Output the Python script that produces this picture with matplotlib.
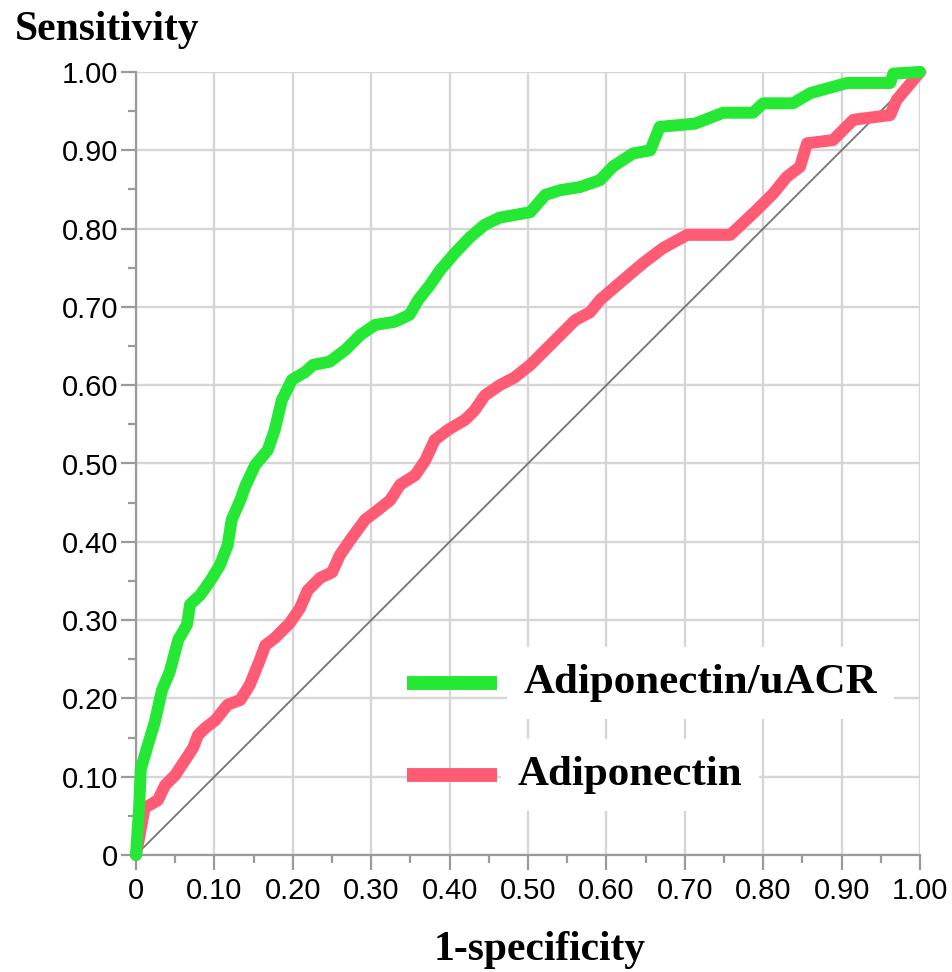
import numpy as np
import matplotlib
matplotlib.use("Agg")
import matplotlib.pyplot as plt

# ROC points
ratio_fpr = [0, 0.004, 0.006, 0.015, 0.024, 0.033, 0.043, 0.054, 0.065, 0.069,
             0.082, 0.094, 0.107, 0.117, 0.122, 0.133, 0.139, 0.152, 0.168, 0.177,
             0.186, 0.199, 0.216, 0.226, 0.247, 0.267, 0.286, 0.305, 0.33, 0.349,
             0.36, 0.375, 0.388, 0.407, 0.426, 0.445, 0.464, 0.503, 0.522, 0.541,
             0.566, 0.592, 0.608, 0.634, 0.656, 0.668, 0.713, 0.749, 0.787, 0.80,
             0.838, 0.86, 0.907, 0.962, 0.966, 1.0]
ratio_tpr = [0, 0.06, 0.109, 0.14, 0.17, 0.21, 0.234, 0.275, 0.294, 0.32,
             0.332, 0.349, 0.37, 0.396, 0.428, 0.453, 0.47, 0.498, 0.517, 0.543,
             0.581, 0.607, 0.617, 0.626, 0.63, 0.645, 0.664, 0.677, 0.681, 0.69,
             0.709, 0.728, 0.747, 0.769, 0.789, 0.805, 0.814, 0.821, 0.843, 0.849,
             0.853, 0.862, 0.879, 0.896, 0.9, 0.93, 0.934, 0.948, 0.948, 0.96,
             0.96, 0.973, 0.986, 0.986, 0.998, 1.0]

adipo_fpr = [0, 0.011, 0.028, 0.037, 0.05, 0.0625, 0.073, 0.079, 0.088, 0.101,
             0.117, 0.133, 0.145, 0.158, 0.165, 0.177, 0.196, 0.209, 0.219, 0.235,
             0.25, 0.26, 0.273, 0.292, 0.309, 0.324, 0.337, 0.356, 0.369, 0.381,
             0.398, 0.42, 0.432, 0.445, 0.464, 0.483, 0.503, 0.522, 0.541, 0.56,
             0.579, 0.592, 0.621, 0.647, 0.672, 0.703, 0.758, 0.774, 0.792, 0.813,
             0.83, 0.847, 0.856, 0.889, 0.915, 0.962, 0.97, 1.0]
adipo_tpr = [0, 0.06, 0.07, 0.089, 0.102, 0.121, 0.137, 0.153, 0.162, 0.172,
             0.192, 0.198, 0.217, 0.249, 0.268, 0.277, 0.296, 0.315, 0.338, 0.354,
             0.361, 0.383, 0.402, 0.428, 0.441, 0.453, 0.473, 0.485, 0.504, 0.53,
             0.543, 0.556, 0.568, 0.587, 0.6, 0.61, 0.626, 0.645, 0.664, 0.683,
             0.693, 0.709, 0.734, 0.756, 0.775, 0.792, 0.792, 0.807, 0.824, 0.845,
             0.866, 0.879, 0.909, 0.913, 0.939, 0.945, 0.964, 1.0]

labels = ["Adiponectin/uACR", "Adiponectin"]
colors = ["#24e834", "#ff5b75"]
ticks = np.arange(0, 1.01, 0.1)
tick_labels = ["0"] + ["%.2f" % t for t in ticks[1:]]

fig = plt.figure(figsize=(9.53, 9.72), dpi=100)
ax = fig.add_axes([136 / 953, 1 - 855 / 972, 784 / 953, 783 / 972])

ax.set_xlim(0, 1)
ax.set_ylim(0, 1)
ax.set_xticks(ticks)
ax.set_yticks(ticks)
ax.set_xticklabels(tick_labels, fontsize=21, family="Liberation Sans")
ax.set_yticklabels(tick_labels, fontsize=21, family="Liberation Sans")
ax.set_xticks(np.arange(0.05, 1, 0.1), minor=True)
ax.set_yticks(np.arange(0.05, 1, 0.1), minor=True)
ax.tick_params(which="major", length=11, width=1.6, color="#9a9a9a", pad=5)
ax.tick_params(axis="y", which="major", pad=2)
ax.tick_params(which="minor", length=5.5, width=1.6, color="#9a9a9a")
ax.grid(True, which="major", color="#d6d6d6", lw=1.7, zorder=0)
ax.set_axisbelow(True)
for s in ["top", "right"]:
    ax.spines[s].set_visible(False)
for s in ["left", "bottom"]:
    ax.spines[s].set_color("#9a9a9a")
    ax.spines[s].set_linewidth(1.6)

ax.plot([0, 1], [0, 1], color="#747474", lw=1.3, zorder=2)
ax.plot(adipo_fpr, adipo_tpr, color=colors[1], lw=8.6, solid_joinstyle="round",
        solid_capstyle="round", clip_on=False, zorder=3)
ax.plot(ratio_fpr, ratio_tpr, color=colors[0], lw=8.6, solid_joinstyle="round",
        solid_capstyle="round", clip_on=False, zorder=4)

# hand-made legend
leg_y = [0.22, 0.102]
leg_tx = [0.494, 0.487]
for i in range(2):
    ax.plot([0.346, 0.46], [leg_y[i], leg_y[i]], color=colors[i], lw=10,
            solid_capstyle="butt", zorder=5)
    ax.text(leg_tx[i], leg_y[i], labels[i], fontsize=31, fontweight="bold",
            family="Liberation Serif", va="center", ha="left", zorder=5,
            bbox=dict(facecolor="white", edgecolor="none", pad=12))

fig.text(15 / 953, 1 - 40 / 972, "Sensitivity", fontsize=30, fontweight="bold",
         family="Liberation Serif", va="baseline", ha="left")
fig.text(540 / 953, 1 - 960 / 972, "1-specificity", fontsize=30, fontweight="bold",
         family="Liberation Serif", va="baseline", ha="center")

fig.savefig("out.png", dpi=100)
